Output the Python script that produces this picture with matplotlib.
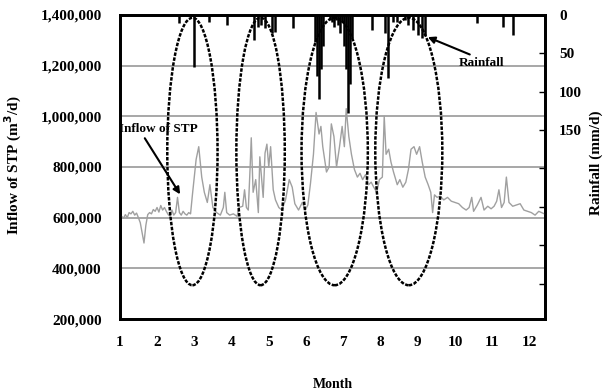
import matplotlib
matplotlib.use("Agg")
import matplotlib.pyplot as plt
from matplotlib.patches import Ellipse
from matplotlib.ticker import FuncFormatter, FixedLocator

# ---- data ----
# daily inflow of the sewage treatment plant (month position, m3/d)
inflow_month = [1.00, 1.05, 1.10, 1.15, 1.20, 1.25, 1.30, 1.35, 1.40, 1.45, 1.50, 1.55, 1.60, 1.65,
                1.70, 1.75, 1.80, 1.85, 1.90, 1.95, 2.00, 2.05, 2.10, 2.15, 2.20, 2.25, 2.30, 2.35,
                2.40, 2.45, 2.50, 2.55, 2.60, 2.65, 2.70, 2.75, 2.80, 2.85, 2.90, 2.95, 3.05, 3.12,
                3.20, 3.27, 3.35, 3.42, 3.50, 3.60, 3.70, 3.78, 3.82, 3.87, 3.95, 4.05, 4.15, 4.20,
                4.30, 4.35, 4.40, 4.45, 4.50, 4.53, 4.58, 4.65, 4.72, 4.76, 4.85, 4.90, 4.95, 5.00,
                5.05, 5.12, 5.18, 5.27, 5.35, 5.45, 5.55, 5.63, 5.70, 5.80, 5.90, 5.98, 6.05, 6.12,
                6.20, 6.27, 6.35, 6.40, 6.45, 6.55, 6.62, 6.68, 6.75, 6.82, 6.90, 6.97, 7.03, 7.08,
                7.15, 7.22, 7.30, 7.38, 7.45, 7.52, 7.60, 7.68, 7.75, 7.82, 7.90, 7.97, 8.05, 8.10,
                8.15, 8.22, 8.28, 8.35, 8.45, 8.52, 8.60, 8.68, 8.75, 8.82, 8.90, 8.97, 9.05, 9.12,
                9.20, 9.28, 9.35, 9.40, 9.45, 9.52, 9.60, 9.70, 9.80, 9.90, 10.00, 10.10, 10.20,
                10.30, 10.38, 10.45, 10.50, 10.60, 10.70, 10.78, 10.88, 10.97, 11.05, 11.12, 11.18,
                11.25, 11.32, 11.38, 11.45, 11.55, 11.65, 11.75, 11.85, 11.95, 12.05, 12.15, 12.25,
                12.40]
inflow = [600000, 605000, 598000, 612000, 600000, 620000, 615000, 625000, 610000, 618000, 600000,
          580000, 540000, 500000, 570000, 612000, 620000, 615000, 632000, 625000, 640000, 622000,
          648000, 630000, 640000, 625000, 612000, 605000, 630000, 610000, 620000, 680000, 620000,
          610000, 625000, 615000, 610000, 620000, 615000, 690000, 830000, 880000, 760000, 700000,
          660000, 730000, 640000, 620000, 610000, 640000, 700000, 620000, 610000, 615000, 605000,
          640000, 645000, 710000, 640000, 630000, 800000, 915000, 700000, 750000, 620000, 840000,
          680000, 855000, 890000, 800000, 880000, 710000, 670000, 640000, 630000, 670000, 750000,
          720000, 655000, 630000, 660000, 630000, 650000, 735000, 850000, 1015000, 930000, 960000,
          880000, 780000, 800000, 970000, 920000, 800000, 880000, 960000, 880000, 1030000, 920000,
          850000, 790000, 760000, 775000, 750000, 770000, 730000, 740000, 720000, 700000, 750000,
          760000, 1000000, 850000, 870000, 820000, 780000, 730000, 750000, 720000, 740000, 790000,
          870000, 880000, 850000, 880000, 820000, 760000, 730000, 700000, 620000, 690000, 680000,
          685000, 670000, 680000, 665000, 660000, 655000, 640000, 630000, 640000, 680000, 625000,
          650000, 680000, 630000, 645000, 635000, 645000, 665000, 710000, 640000, 660000, 760000,
          660000, 645000, 650000, 655000, 630000, 625000, 620000, 610000, 625000, 615000]

# daily rainfall (month position, mm/d)
rain_month = [2.60, 3.00, 3.40, 3.89, 4.61, 4.70, 4.80, 4.91, 5.10, 5.16, 5.64,
              6.24, 6.29, 6.34, 6.40, 6.45, 6.64, 6.69, 6.75, 6.80, 6.86, 6.91, 6.96,
              7.02, 7.07, 7.12, 7.18, 7.23, 7.77, 8.11, 8.19, 8.33, 8.44, 8.65, 8.73,
              8.87, 9.00, 9.11, 9.19, 10.60, 11.30, 11.56]
rainfall = [10, 68, 9, 13, 33, 16, 13, 17, 23, 22, 17,
            35, 80, 110, 70, 40, 7, 9, 16, 7, 13, 23, 9,
            40, 70, 128, 90, 30, 20, 23, 82, 9, 9, 7, 13,
            20, 26, 30, 26, 10, 16, 26]

# dashed ellipses marking the rainy periods
ellipse_month = [2.95, 4.78, 6.77, 8.76]
ellipse_width = [1.35, 1.30, 1.78, 1.80]
ellipse_value = 861000
ellipse_height = 1055000

left_ticks = [200000, 400000, 600000, 800000, 1000000, 1200000, 1400000]
month_ticks = list(range(1, 13))
rain_ticks = [0, 50, 100, 150, 200, 250, 300, 350]
rain_labels = ["0", "50", "100", "150", "", "", "", ""]

# ---- plotting ----
plt.rcParams["font.family"] = ["Liberation Serif", "DejaVu Serif"]
plt.rcParams["font.weight"] = "bold"

fig = plt.figure(figsize=(6.05, 3.91), dpi=100)
ax = fig.add_axes([0.198, 0.184, 0.703, 0.778])

ax.plot(inflow_month, inflow, color="#a0a0a0", lw=1.0, zorder=3)
ax.set_xlim(1, 12.42)
ax.set_ylim(200000, 1400000)
ax.set_yticks(left_ticks)
ax.yaxis.set_major_formatter(FuncFormatter(lambda v, pos: f"{int(v):,}"))
ax.set_xticks(month_ticks)
ax.tick_params(axis="y", length=0, labelsize=11, pad=13)
ax.tick_params(axis="x", length=0, labelsize=11, pad=12)
for lab in ax.get_xticklabels() + ax.get_yticklabels():
    lab.set_fontweight("bold")
ax.grid(True, axis="y", color="#a0a0a0", lw=1.3, zorder=1)
ax.set_axisbelow(True)
for sp in ax.spines.values():
    sp.set_linewidth(2)

ax.set_ylabel("Inflow of STP (m$^3$/d)", fontsize=11, fontweight="bold")
ax.yaxis.set_label_coords(-0.226, 0.507)
ax.set_xlabel("Month", fontsize=10, fontweight="bold")
ax.xaxis.set_label_coords(0.5, -0.194)

for cx, w in zip(ellipse_month, ellipse_width):
    ax.add_patch(Ellipse((cx, ellipse_value), w, ellipse_height, fill=False,
                         edgecolor="black", lw=1.8, linestyle=(0, (1.4, 0.6)), zorder=5))

ax.annotate("Inflow of STP", xy=(2.62, 692000), xytext=(0.99, 948000),
            fontsize=9.5, fontweight="bold", ha="left", va="center",
            arrowprops=dict(arrowstyle="-|>", color="black", lw=1.5,
                            shrinkA=0, shrinkB=0, mutation_scale=10,
                            relpos=(0.3, 0.0)), zorder=6)

ax2 = ax.twinx()
ax2.vlines(rain_month, 0, rainfall, color="black", lw=1.8, zorder=4)
ax2.set_ylim(396, 0)
ax2.yaxis.set_major_locator(FixedLocator(rain_ticks))
ax2.set_yticklabels(rain_labels)
ax2.tick_params(axis="y", direction="in", length=4, width=1, labelsize=11, pad=10)
for lab in ax2.get_yticklabels():
    lab.set_fontweight("bold")
for sp in ax2.spines.values():
    sp.set_linewidth(2)
ax2.set_ylabel("Rainfall (mm/d)", fontsize=11, fontweight="bold")
ax2.yaxis.set_label_coords(1.104, 0.513)

ax2.annotate("Rainfall", xy=(9.27, 29), xytext=(10.70, 63),
             fontsize=9.5, fontweight="bold", ha="center", va="center",
             arrowprops=dict(arrowstyle="-|>", color="black", lw=1.5,
                             shrinkA=0, shrinkB=0, mutation_scale=10,
                             relpos=(0.4, 1.0)), zorder=6)

fig.savefig("out.png", dpi=100)
